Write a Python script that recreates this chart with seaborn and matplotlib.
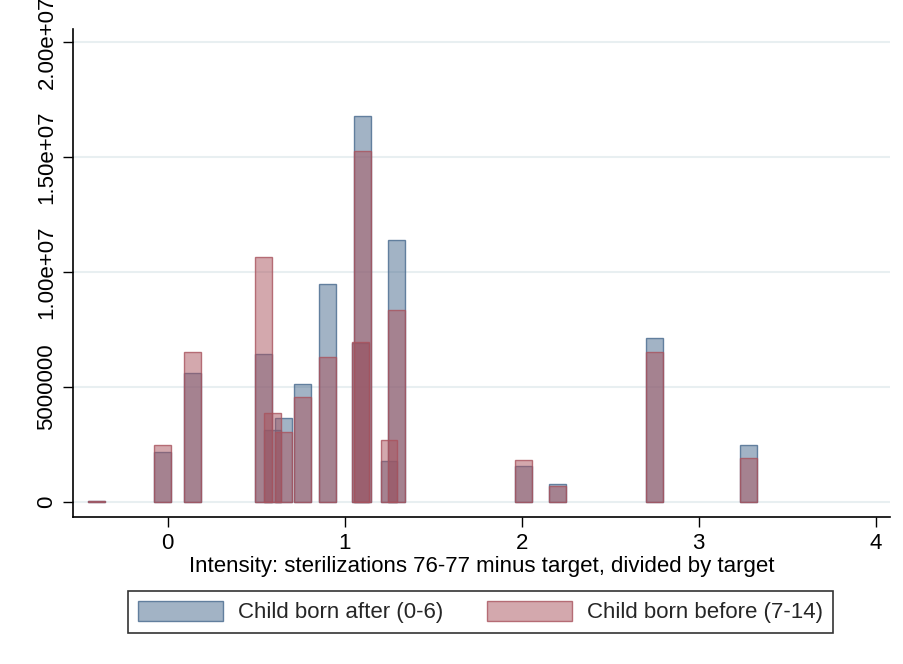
import numpy as np
import pandas as pd
import matplotlib
matplotlib.use("Agg")
import matplotlib.pyplot as plt
from matplotlib.patches import Patch
from matplotlib.ticker import FixedLocator, FixedFormatter
import seaborn as sns

# ---- data ----
positions = [-0.40, -0.03, 0.14, 0.54, 0.59, 0.655, 0.763, 0.905,
             1.088, 1.10, 1.25, 1.293, 2.01, 2.20, 2.75, 3.28]
after_vals = [3.0e4, 2.16e6, 5.62e6, 6.43e6, 3.12e6, 3.65e6, 5.12e6, 9.49e6,
              6.90e6, 1.677e7, 1.78e6, 1.138e7, 1.58e6, 0.77e6, 7.12e6, 2.48e6]
before_vals = [3.0e4, 2.465e6, 6.535e6, 1.064e7, 3.88e6, 3.03e6, 4.57e6, 6.29e6,
               6.97e6, 1.526e7, 2.68e6, 8.35e6, 1.826e6, 0.70e6, 6.51e6, 1.90e6]
series_names = ["Child born after (0-6)", "Child born before (7-14)"]
xticks = [0, 1, 2, 3, 4]
yticks = [0, 5e6, 1e7, 1.5e7, 2e7]
ytick_labels = ["0", "5000000", "1.00e+07", "1.50e+07", "2.00e+07"]
xlabel = "Intensity: sterilizations 76-77 minus target, divided by target"

# ---- style ----
sns.set_style("ticks")
plt.rcParams["font.family"] = ["Liberation Sans", "DejaVu Sans"]

blue_face = (71/255, 105/255, 141/255, 0.5)
blue_edge = (71/255, 105/255, 141/255, 0.8)
red_face = (169/255, 83/255, 93/255, 0.5)
red_edge = (169/255, 83/255, 93/255, 0.8)

BAR_W = 0.095
min_gap = np.min(np.diff(np.unique(positions)))
w_param = BAR_W / min_gap

FS = 16

fig = plt.figure(figsize=(9.04, 6.64), dpi=100)
ax = fig.add_axes([0.0811, 0.2218, 0.9034, 0.7341])

df_a = pd.DataFrame({"x": positions, "y": after_vals})
df_b = pd.DataFrame({"x": positions, "y": before_vals})

sns.barplot(data=df_a, x="x", y="y", native_scale=True, width=w_param,
            errorbar=None, saturation=1, ax=ax,
            facecolor=blue_face, edgecolor=blue_edge, linewidth=1.0, zorder=2)
sns.barplot(data=df_b, x="x", y="y", native_scale=True, width=w_param,
            errorbar=None, saturation=1, ax=ax,
            facecolor=red_face, edgecolor=red_edge, linewidth=1.0, zorder=3)

ax.set_xlim(-0.533, 4.08)
ax.set_ylim(-0.64e6, 2.055e7)

ax.xaxis.set_major_locator(FixedLocator(xticks))
ax.xaxis.set_major_formatter(FixedFormatter([str(t) for t in xticks]))
ax.yaxis.set_major_locator(FixedLocator(yticks))
ax.yaxis.set_major_formatter(FixedFormatter(ytick_labels))

for yv in yticks:
    ax.axhline(yv, color="#e8eff1", linewidth=1.5, zorder=0)

for s in ["top", "right"]:
    ax.spines[s].set_visible(False)
for s in ["left", "bottom"]:
    ax.spines[s].set_color("black")
    ax.spines[s].set_linewidth(1.2)

ax.tick_params(axis="both", direction="out", length=7, width=1.0,
               color="black", labelsize=FS, labelcolor="black")
ax.tick_params(axis="x", pad=5)
ax.tick_params(axis="y", pad=12)
for lab in ax.get_yticklabels():
    lab.set_rotation(90)
    lab.set_va("center")
    lab.set_ha("center")

ax.set_xlabel(xlabel, fontsize=FS, labelpad=1, color="black")
ax.set_ylabel("")

handles = [Patch(facecolor=blue_face, edgecolor=blue_edge, linewidth=1.0),
           Patch(facecolor=red_face, edgecolor=red_edge, linewidth=1.0)]
leg = fig.legend(handles, series_names, loc="center", bbox_to_anchor=(0.5315, 0.0783),
                 ncol=2, fontsize=FS, frameon=True, fancybox=False, shadow=False,
                 handlelength=3.85, handleheight=1.0, handletextpad=0.68,
                 columnspacing=1.95, borderpad=0.45, borderaxespad=0)
leg.get_frame().set_edgecolor("black")
leg.get_frame().set_linewidth(1.2)

fig.savefig("out.png", dpi=100, facecolor="white")
